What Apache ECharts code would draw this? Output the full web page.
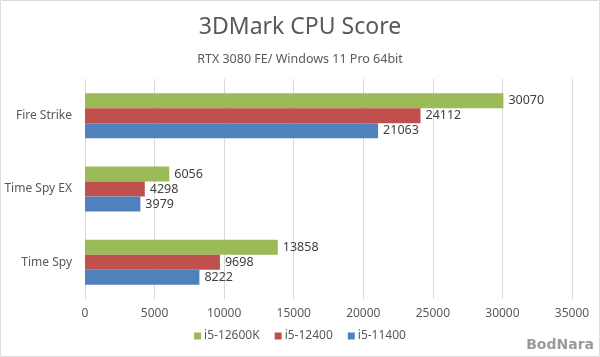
<!DOCTYPE html>
<html>
<head>
<meta charset="utf-8">
<script src="https://cdn.jsdelivr.net/npm/echarts@6/dist/echarts.min.js"></script>
<style>
html,body{margin:0;padding:0;background:#fff;}
#chart{width:600px;height:357px;}
</style>
</head>
<body>
<div id="chart"></div>
<script>
var titleText = '3DMark CPU Score';
var subtitleText = 'RTX 3080 FE/ Windows 11 Pro 64bit';
var categories = ['Fire Strike', 'Time Spy EX', 'Time Spy'];
var seriesNames = ['i5-12600K', 'i5-12400', 'i5-11400'];
var i5_12600K = [30070, 6056, 13858];
var i5_12400 = [24112, 4298, 9698];
var i5_11400 = [21063, 3979, 8222];
var colors = ['#9BBB59', '#C0504D', '#4F81BD'];
var xTicks = [0, 5000, 10000, 15000, 20000, 25000, 30000, 35000];

var FONT = '"Noto Sans", "Open Sans", sans-serif';
var seriesData = [i5_12600K, i5_12400, i5_11400];

var chart = echarts.init(document.getElementById('chart'), null, {renderer: 'canvas'});
var option = {
  animation: false,
  color: colors,
  textStyle: {fontFamily: FONT},
  title: [{
    text: titleText,
    left: 'center',
    top: 11,
    textStyle: {fontFamily: FONT, fontSize: 23, fontWeight: 'normal', color: '#595959'}
  }, {
    text: subtitleText,
    left: 'center',
    top: 48,
    textStyle: {fontFamily: FONT, fontSize: 12.5, fontWeight: 'normal', color: '#595959'}
  }],
  grid: {left: 85, right: 28, top: 79, bottom: 58, containLabel: false},
  legend: {
    bottom: 10,
    left: 'center',
    itemWidth: 7,
    itemHeight: 7,
    itemGap: 15,
    icon: 'rect',
    textStyle: {fontFamily: FONT, fontSize: 12, color: '#595959', padding: [0, 0, 0, -2]},
    data: seriesNames
  },
  xAxis: {
    type: 'value',
    min: xTicks[0],
    max: xTicks[xTicks.length - 1],
    interval: 5000,
    axisLine: {show: false},
    axisTick: {show: false},
    axisLabel: {fontFamily: FONT, fontSize: 12, color: '#595959', margin: 9,
      formatter: function (v) { return String(v); }},
    splitLine: {show: true, lineStyle: {color: '#d9d9d9', width: 1}}
  },
  yAxis: {
    type: 'category',
    inverse: true,
    data: categories,
    axisLine: {show: false},
    axisTick: {show: false},
    axisLabel: {fontFamily: FONT, fontSize: 12, color: '#595959', margin: 13}
  },
  series: seriesNames.map(function (n, i) {
    return {
      name: n,
      type: 'bar',
      data: seriesData[i],
      barWidth: 15,
      barGap: '0%',
      itemStyle: {color: colors[i]},
      label: {
        show: true,
        position: 'right',
        distance: 5,
        fontFamily: FONT,
        fontSize: 12.5,
        color: '#404040'
      }
    };
  }),
  graphic: [{
    type: 'rect',
    shape: {x: 0.5, y: 0.5, width: 599, height: 356},
    style: {fill: 'none', stroke: '#dcdcdc', lineWidth: 1},
    silent: true
  }, {
    type: 'text',
    right: 6,
    bottom: 5,
    style: {text: 'BodNara', fontFamily: '"DejaVu Sans", sans-serif', fontSize: 14, fontWeight: 'bold', fill: '#9a9a9a'},
    silent: true
  }]
};
chart.setOption(option);
</script>
</body>
</html>
